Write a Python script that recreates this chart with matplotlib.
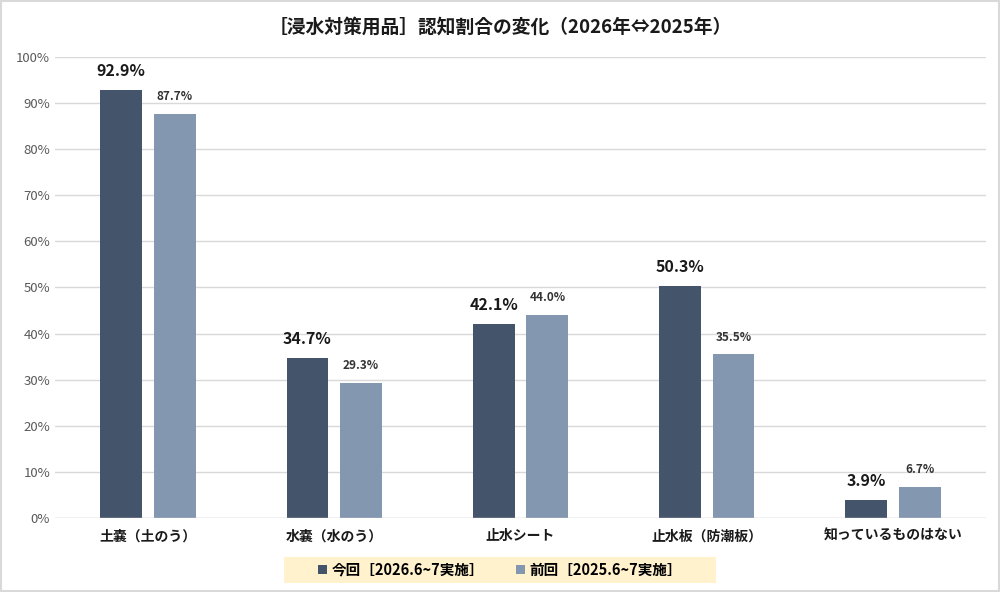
import matplotlib
matplotlib.use('Agg')
import matplotlib.pyplot as plt
import numpy as np
from matplotlib.patches import Rectangle

plt.rcParams['font.family'] = ['Noto Sans CJK JP', 'DejaVu Sans']

categories = ['土嚢（土のう）', '水嚢（水のう）', '止水シート', '止水板（防潮板）', '知っているものはない']
current = [92.9, 34.7, 42.1, 50.3, 3.9]
previous = [87.7, 29.3, 44.0, 35.5, 6.7]
series_names = ['今回［2026.6~7実施］', '前回［2025.6~7実施］']
title = '［浸水対策用品］認知割合の変化（2026年⇔2025年）'

c_cur = '#44546A'
c_prev = '#8497B0'

fig = plt.figure(figsize=(10, 5.92), dpi=100)
ax = fig.add_axes([0.055, 0.125, 0.931, 0.779])

x = np.arange(len(categories))
off = 0.144
w = 0.225
ax.bar(x - off, current, w, color=c_cur, label=series_names[0], zorder=3)
ax.bar(x + off, previous, w, color=c_prev, label=series_names[1], zorder=3)

for xi, v in zip(x, current):
    ax.text(xi - off, v + 2.3, f'{v:.1f}%', ha='center', va='bottom',
            fontsize=11.5, fontweight='bold', color='#1a1a1a')
for xi, v in zip(x, previous):
    ax.text(xi + off, v + 2.3, f'{v:.1f}%', ha='center', va='bottom',
            fontsize=8.5, fontweight='bold', color='#333333')

ax.set_xlim(-0.5, len(categories) - 0.5)
ax.set_ylim(0, 100)
ax.set_yticks(np.arange(0, 101, 10))
ax.set_yticklabels([f'{t}%' for t in range(0, 101, 10)], fontsize=9.5, color='#595959')
ax.set_xticks(x)
ax.set_xticklabels(categories, fontsize=10, fontweight='bold', color='#1a1a1a')
ax.tick_params(axis='both', length=0)
ax.tick_params(axis='x', pad=8)
ax.grid(axis='y', color='#d9d9d9', linewidth=1, zorder=0)
for s in ax.spines.values():
    s.set_visible(False)
ax.axhline(0, color='#d9d9d9', linewidth=1, zorder=4)

fig.text(0.5, 0.955, title, ha='center', va='center', fontsize=13.5, fontweight='bold', color='#1a1a1a')

# legend box
fig.patches.append(Rectangle((0.284, 1 - 583 / 592), 0.432, 26 / 592, transform=fig.transFigure,
                             facecolor='#FFF2CC', edgecolor='none', zorder=0))
leg = fig.legend(loc='center', bbox_to_anchor=(0.5, 1 - 570 / 592), ncol=2, frameon=False,
                 handlelength=0.6, handleheight=0.6, handletextpad=0.3,
                 columnspacing=2.2, prop={'weight': 'bold', 'size': 10.5})

# outer border
fig.patches.append(Rectangle((0.001, 0.001), 0.998, 0.998, transform=fig.transFigure,
                             facecolor='none', edgecolor='#d9d9d9', linewidth=1.5))

fig.savefig('out.png', dpi=100)
